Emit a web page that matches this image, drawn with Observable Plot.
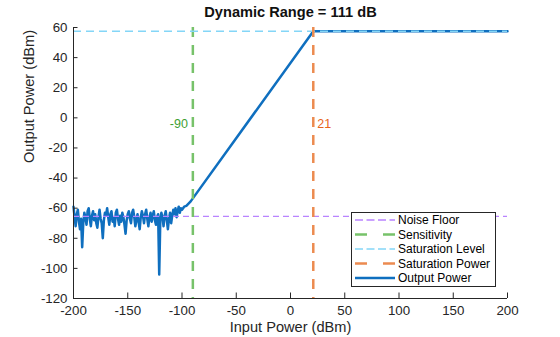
<!DOCTYPE html>
<html>
<head>
<meta charset="utf-8">
<script src="https://cdn.jsdelivr.net/npm/d3@7"></script>
<script src="https://cdn.jsdelivr.net/npm/@observablehq/plot@0.6"></script>
<style>
  html, body { margin: 0; padding: 0; background: #fff; }
  #wrap { position: relative; width: 560px; height: 337px; font-family: "Liberation Sans", Arial, sans-serif; }
  #legend { position: absolute; left: 351px; top: 212px; }
</style>
</head>
<body>
<div id="wrap"><div id="chart"></div><div id="legend"></div></div>
<script>
// ---- data ----
const inputPower = [
  -200,-199,-198,-197,-196,-195,-194,-193,-192,-191,
  -190,-189,-188,-187,-186,-185,-184,-183,-182,-181,
  -180,-179,-178,-177,-176,-175,-174,-173,-172,-171,
  -170,-169,-168,-167,-166,-165,-164,-163,-162,-161,
  -160,-159,-158,-157,-156,-155,-154,-153,-152,-151,
  -150,-149,-148,-147,-146,-145,-144,-143,-142,-141,
  -140,-139,-138,-137,-136,-135,-134,-133,-132,-131,
  -130,-129,-128,-127,-126,-125,-124,-123,-122,-121,
  -120,-119,-118,-117,-116,-115,-114,-113,-112,-111,
  -110,-109,-108,-107,-106,-105,-104,-103,-102,-101,
  -100,-98,-96,-94,-92,-90,21,200
];
const outputPower = [
  -59,-66,-72,-64,-61,-69,-74,-67,-86,-70,
  -63,-66,-71,-62,-60,-67,-72,-65,-62,-68,
  -64,-70,-73,-66,-61,-67,-70,-80,-68,-63,
  -65,-60,-66,-71,-64,-62,-69,-66,-72,-63,
  -61,-67,-71,-65,-69,-63,-66,-71,-77,-68,
  -64,-62,-67,-70,-63,-61,-66,-72,-68,-64,
  -69,-74,-66,-62,-65,-70,-64,-61,-67,-72,
  -66,-63,-69,-65,-62,-68,-71,-66,-64,-104,
  -68,-63,-66,-72,-65,-62,-68,-74,-67,-63,
  -70,-65,-61,-64,-60,-66,-62,-59,-63,-60,
  -61,-59,-58.5,-57,-55.5,-53.5,57.5,57.5
];
const noiseFloor = -65.5;
const sensitivity = -90;
const saturationLevel = 57.5;
const saturationPower = 21;
const dynamicRange = 111;
const xTicks = [-200,-150,-100,-50,0,50,100,150,200];
const yTicks = [-120,-100,-80,-60,-40,-20,0,20,40,60];
const sensitivityLabel = "-90";
const saturationPowerLabel = "21";
const labelY = -4;
const seriesNames = ["Noise Floor","Sensitivity","Saturation Level","Saturation Power","Output Power"];
const seriesColors = ["#b983ff","#77c26a","#84d6f7","#ec8b50","#0f6fbf"];
const seriesWidths = [1.3,2.5,1.5,2.5,2.5];
const seriesDash = ["6,4","10,8","8,5","10,8",null];

const data = inputPower.map((x, i) => ({x, y: outputPower[i]}));
const axisColor = "#262626";
const fontFam = '"Liberation Sans", Arial, sans-serif';

const chart = Plot.plot({
  width: 560, height: 337,
  marginLeft: 73, marginRight: 53, marginTop: 27, marginBottom: 39,
  style: {fontFamily: fontFam, fontSize: "13.3px", color: axisColor, background: "white", overflow: "visible"},
  x: {domain: [-200, 200]},
  y: {domain: [-120, 60]},
  marks: [
    Plot.line(data, {x: "x", y: "y", stroke: seriesColors[4], strokeWidth: seriesWidths[4], strokeLinejoin: "round"}),
    Plot.ruleY([noiseFloor], {stroke: seriesColors[0], strokeWidth: seriesWidths[0], strokeDasharray: seriesDash[0]}),
    Plot.ruleX([sensitivity], {stroke: seriesColors[1], strokeWidth: seriesWidths[1], strokeDasharray: seriesDash[1]}),
    Plot.ruleY([saturationLevel], {stroke: seriesColors[2], strokeWidth: seriesWidths[2], strokeDasharray: seriesDash[2]}),
    Plot.ruleX([saturationPower], {stroke: seriesColors[3], strokeWidth: seriesWidths[3], strokeDasharray: seriesDash[3]}),
    Plot.text([sensitivityLabel], {x: sensitivity, y: labelY, text: d => d, textAnchor: "end", dx: -5, fill: "#3f9f32", fontSize: 12.5}),
    Plot.text([saturationPowerLabel], {x: saturationPower, y: labelY, text: d => d, textAnchor: "start", dx: 4, fill: "#e8641c", fontSize: 12.5}),
    // axes
    Plot.axisX({ticks: xTicks, tickSize: 0, tickPadding: 7, label: null, fontSize: 13.3, tickFormat: d => String(d)}),
    Plot.axisY({ticks: yTicks, tickSize: 0, tickPadding: 6, label: null, fontSize: 13.3, tickFormat: d => String(d)}),
    Plot.ruleX(xTicks, {stroke: axisColor, insetTop: 270 - 4.5}),
    Plot.ruleY(yTicks, {stroke: axisColor, insetRight: 434 - 4.5}),
    Plot.ruleX([-200], {stroke: axisColor}),
    Plot.ruleY([-120], {stroke: axisColor}),
    Plot.text(["Input Power (dBm)"], {frameAnchor: "bottom", dy: 33, fontSize: 14.6, fill: axisColor}),
    Plot.text(["Output Power (dBm)"], {frameAnchor: "left", dx: -44, rotate: -90, fontSize: 14.6, fill: axisColor}),
    Plot.text([`Dynamic Range = ${dynamicRange} dB`], {frameAnchor: "top", dy: -21, fontSize: 14.6, fontWeight: "bold", fill: "#111"})
  ]
});
document.getElementById("chart").append(chart);

// legend
const lw = 145, lh = 75, rowH = 14.5, row0 = 8;
const lg = d3.select("#legend").append("svg").attr("width", lw).attr("height", lh)
  .style("font-family", fontFam).style("font-size", "12px");
lg.append("rect").attr("x", 0.5).attr("y", 0.5).attr("width", lw - 1).attr("height", lh - 1)
  .attr("fill", "white").attr("stroke", axisColor).attr("stroke-width", 1);
seriesNames.forEach((name, i) => {
  const y = row0 + i * rowH;
  lg.append("line").attr("x1", 4).attr("x2", 44).attr("y1", y).attr("y2", y)
    .attr("stroke", seriesColors[i]).attr("stroke-width", seriesWidths[i])
    .attr("stroke-dasharray", seriesDash[i] ? (seriesWidths[i] > 2 ? "12,16" : "8,3.5") : null);
  lg.append("text").attr("x", 47).attr("y", y).attr("dy", "0.35em").attr("fill", "#000").text(name);
});
</script>
</body>
</html>
